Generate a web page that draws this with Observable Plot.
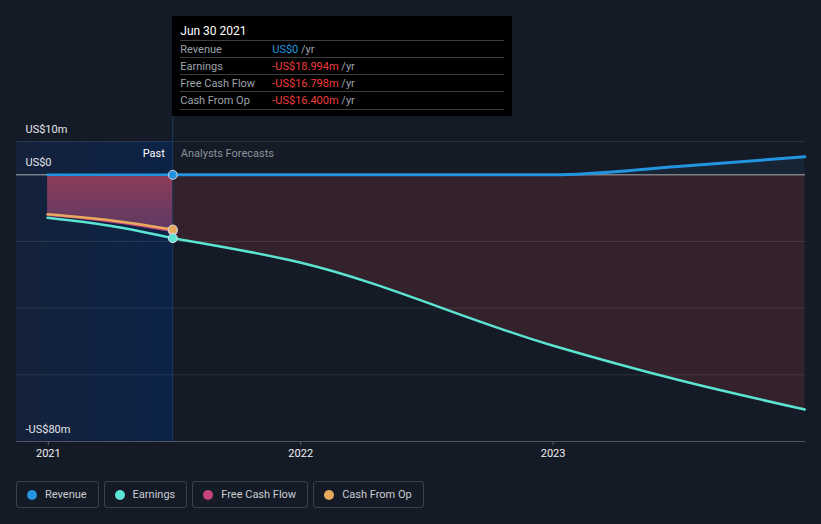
<!DOCTYPE html>
<html><head><meta charset="utf-8">
<script src="https://cdn.jsdelivr.net/npm/d3@7"></script>
<script src="https://cdn.jsdelivr.net/npm/@observablehq/plot@0.6"></script>
<style>
html,body{margin:0;padding:0;background:#151b26;width:821px;height:524px;overflow:hidden;font-family:Roboto,sans-serif;}
#wrap{position:relative;width:821px;height:470px;}
#wrap svg{display:block;}
#tip{position:absolute;background:#000;color:#9ea3ab;font-size:11px;box-sizing:border-box;}
#tip .title{position:absolute;left:8px;top:8px;color:#fff;font-size:12px;}
#tip .row{position:absolute;left:8px;width:324px;height:17px;border-top:1px solid #3a3d42;}
#tip .row:last-child{border-bottom:1px solid #3a3d42;}
#tip .lab{position:absolute;left:0;top:1px;line-height:15px;}
#tip .val{position:absolute;left:92px;top:1px;line-height:15px;}
#legend{display:flex;gap:5px;margin:11px 0 0 16px;}
#legend .item{display:flex;align-items:center;height:27px;box-sizing:border-box;border:1px solid #3b414c;border-radius:3px;padding:0 11px 0 10px;color:#c9cdd3;font-size:11px;}
#legend .dot{width:10px;height:10px;border-radius:50%;margin-right:8px;}
</style></head><body>
<div id="wrap"></div>
<div id="legend"></div>
<script>
// ---- data (US$ millions) ----
const pastDates = ["2020-12-31", "2021-03-31", "2021-06-30"];
const pastRevenue = [0, 0, 0];
const pastEarnings = [-12.9, -15.3, -18.994];
const pastFCF = [-12.0, -13.9, -16.798];
const pastCFO = [-11.8, -13.6, -16.4];

const fcDates = ["2021-06-30", "2021-12-31", "2022-12-31", "2023-06-30", "2023-12-31"];
const fcRevenue = [0, 0, 0, 2.5, 5.4];
const fcEarnings = [-18.994, -26.3, -51.2, -61.5, -70.4];

const seriesNames = ["Revenue", "Earnings", "Free Cash Flow", "Cash From Op"];
const seriesColors = ["#2394df", "#5ce4d2", "#c4457e", "#e6a95e"];

const yLabelValues = [10, 0, -80];
const yLabels = ["US$10m", "US$0", "-US$80m"];
const gridValues = [10, -20, -40, -60];
const xTickDates = ["2021-01-01", "2022-01-01", "2023-01-01"];
const xTickLabels = ["2021", "2022", "2023"];

const xDomain = ["2020-11-16", "2024-01-01"];
const yDomain = [-80, 10];
const splitDate = "2021-06-30";

const tipTitle = "Jun 30 2021";
const tipValues = ["US$0", "-US$18.994m", "-US$16.798m", "-US$16.400m"];

// ---- build tables ----
const P = d => new Date(d + "T00:00:00Z");
const past = pastDates.map((d, i) => ({date: P(d), rev: pastRevenue[i], earn: pastEarnings[i], fcf: pastFCF[i], cfo: pastCFO[i]}));
const fc = fcDates.map((d, i) => ({date: P(d), rev: fcRevenue[i], earn: fcEarnings[i]}));
const last = past[past.length - 1];
const split = P(splitDate);

const defs = () => {
  const ns = "http://www.w3.org/2000/svg";
  const g = document.createElementNS(ns, "defs");
  g.innerHTML = `
    <linearGradient id="pastGrad" x1="0" y1="0" x2="1" y2="0">
      <stop offset="0" stop-color="#14213a"/>
      <stop offset="1" stop-color="#0c2347"/>
    </linearGradient>
    <linearGradient id="fcfGrad" x1="0" y1="0" x2="0" y2="1">
      <stop offset="0" stop-color="#8e3c58"/>
      <stop offset="1" stop-color="#5e3a64"/>
    </linearGradient>`;
  return g;
};

const chart = Plot.plot({
  width: 821, height: 470,
  marginTop: 141, marginBottom: 29, marginLeft: 16, marginRight: 16,
  style: {background: "transparent", fontFamily: "Roboto, sans-serif", fontSize: "11px", overflow: "visible"},
  x: {type: "utc", domain: xDomain.map(P), axis: null},
  y: {domain: yDomain, axis: null},
  marks: [
    defs,
    Plot.rect([{x1: P(xDomain[0]), x2: split, y1: yDomain[0], y2: yDomain[1]}], {x1: "x1", x2: "x2", y1: "y1", y2: "y2", fill: "url(#pastGrad)"}),
    Plot.areaY(fc, {x: "date", y1: 0, y2: "earn", fill: "#33222b", curve: "monotone-x"}),
    Plot.areaY(fc, {x: "date", y1: 0, y2: "rev", fill: "#2394df", fillOpacity: 0.08, curve: "monotone-x"}),
    Plot.areaY(past, {x: "date", y1: 0, y2: "fcf", fill: "url(#fcfGrad)", curve: "monotone-x"}),
    Plot.ruleY(gridValues, {stroke: "#ffffff", strokeOpacity: 0.1}),
    Plot.ruleY([yDomain[0]], {stroke: "#4f5561"}),
    Plot.ruleY([0], {stroke: "#a9adb4"}),
    Plot.ruleX([split], {y1: yDomain[1], y2: yDomain[0], insetTop: -25, stroke: "#1d3a60"}),
    Plot.text(yLabelValues, {y: d => d, frameAnchor: "left", dx: 9, dy: -12, text: (d, i) => yLabels[i], textAnchor: "start", fill: "#e4e6ea", fontSize: 11}),
    Plot.text(["Past"], {x: () => split, y: () => yDomain[1], dx: -8, dy: 12, text: d => d, textAnchor: "end", fill: "#ffffff", fontSize: 11}),
    Plot.text(["Analysts Forecasts"], {x: () => split, y: () => yDomain[1], dx: 8, dy: 12, text: d => d, textAnchor: "start", fill: "#8b9099", fontSize: 11}),
    Plot.line(past, {x: "date", y: "fcf", stroke: seriesColors[2], strokeWidth: 2.5, curve: "monotone-x"}),
    Plot.line(past, {x: "date", y: "cfo", stroke: seriesColors[3], strokeWidth: 2.5, curve: "monotone-x"}),
    Plot.line(past, {x: "date", y: "earn", stroke: seriesColors[1], strokeWidth: 2.5, curve: "monotone-x"}),
    Plot.line(fc, {x: "date", y: "earn", stroke: seriesColors[1], strokeWidth: 2.5, curve: "monotone-x"}),
    Plot.line(past, {x: "date", y: "rev", stroke: seriesColors[0], strokeWidth: 2.5, curve: "monotone-x"}),
    Plot.line(fc, {x: "date", y: "rev", stroke: seriesColors[0], strokeWidth: 3, curve: "monotone-x"}),
    Plot.dot([last], {x: "date", y: "fcf", r: 4.5, fill: seriesColors[2], stroke: "#d8dbe0", strokeWidth: 1}),
    Plot.dot([last], {x: "date", y: "cfo", r: 4.5, fill: seriesColors[3], stroke: "#d8dbe0", strokeWidth: 1}),
    Plot.dot([last], {x: "date", y: "earn", r: 4.5, fill: seriesColors[1], stroke: "#d8dbe0", strokeWidth: 1}),
    Plot.dot([last], {x: "date", y: "rev", r: 4.5, fill: seriesColors[0], stroke: "#d8dbe0", strokeWidth: 1}),
    Plot.axisX(xTickDates.map(P), {tickSize: 4, tickPadding: 4, stroke: "#5a606b", color: "#eef0f3", fontSize: 11,
      tickFormat: d => xTickLabels[xTickDates.findIndex(t => +P(t) === +d)]})
  ]
});
const wrap = document.getElementById("wrap");
wrap.appendChild(chart);

// tooltip, anchored on the split date via the x scale
const xs = chart.scale("x");
const tip = document.createElement("div");
tip.id = "tip";
const left = xs.apply(split);
tip.style.left = left + "px";
tip.style.top = "16px";
tip.style.width = "340px";
tip.style.height = "100px";
let html = `<div class="title">${tipTitle}</div>`;
seriesNames.forEach((n, i) => {
  const col = i === 0 ? "#2394df" : "#f03c3c";
  html += `<div class="row" style="top:${24 + i * 17}px"><span class="lab">${n}</span><span class="val"><span style="color:${col}">${tipValues[i]}</span> /yr</span></div>`;
});
tip.innerHTML = html;
wrap.appendChild(tip);

// legend
const legend = document.getElementById("legend");
seriesNames.forEach((n, i) => {
  const it = document.createElement("div");
  it.className = "item";
  it.innerHTML = `<span class="dot" style="background:${seriesColors[i]}"></span>${n}`;
  legend.appendChild(it);
});
</script>
</body></html>
